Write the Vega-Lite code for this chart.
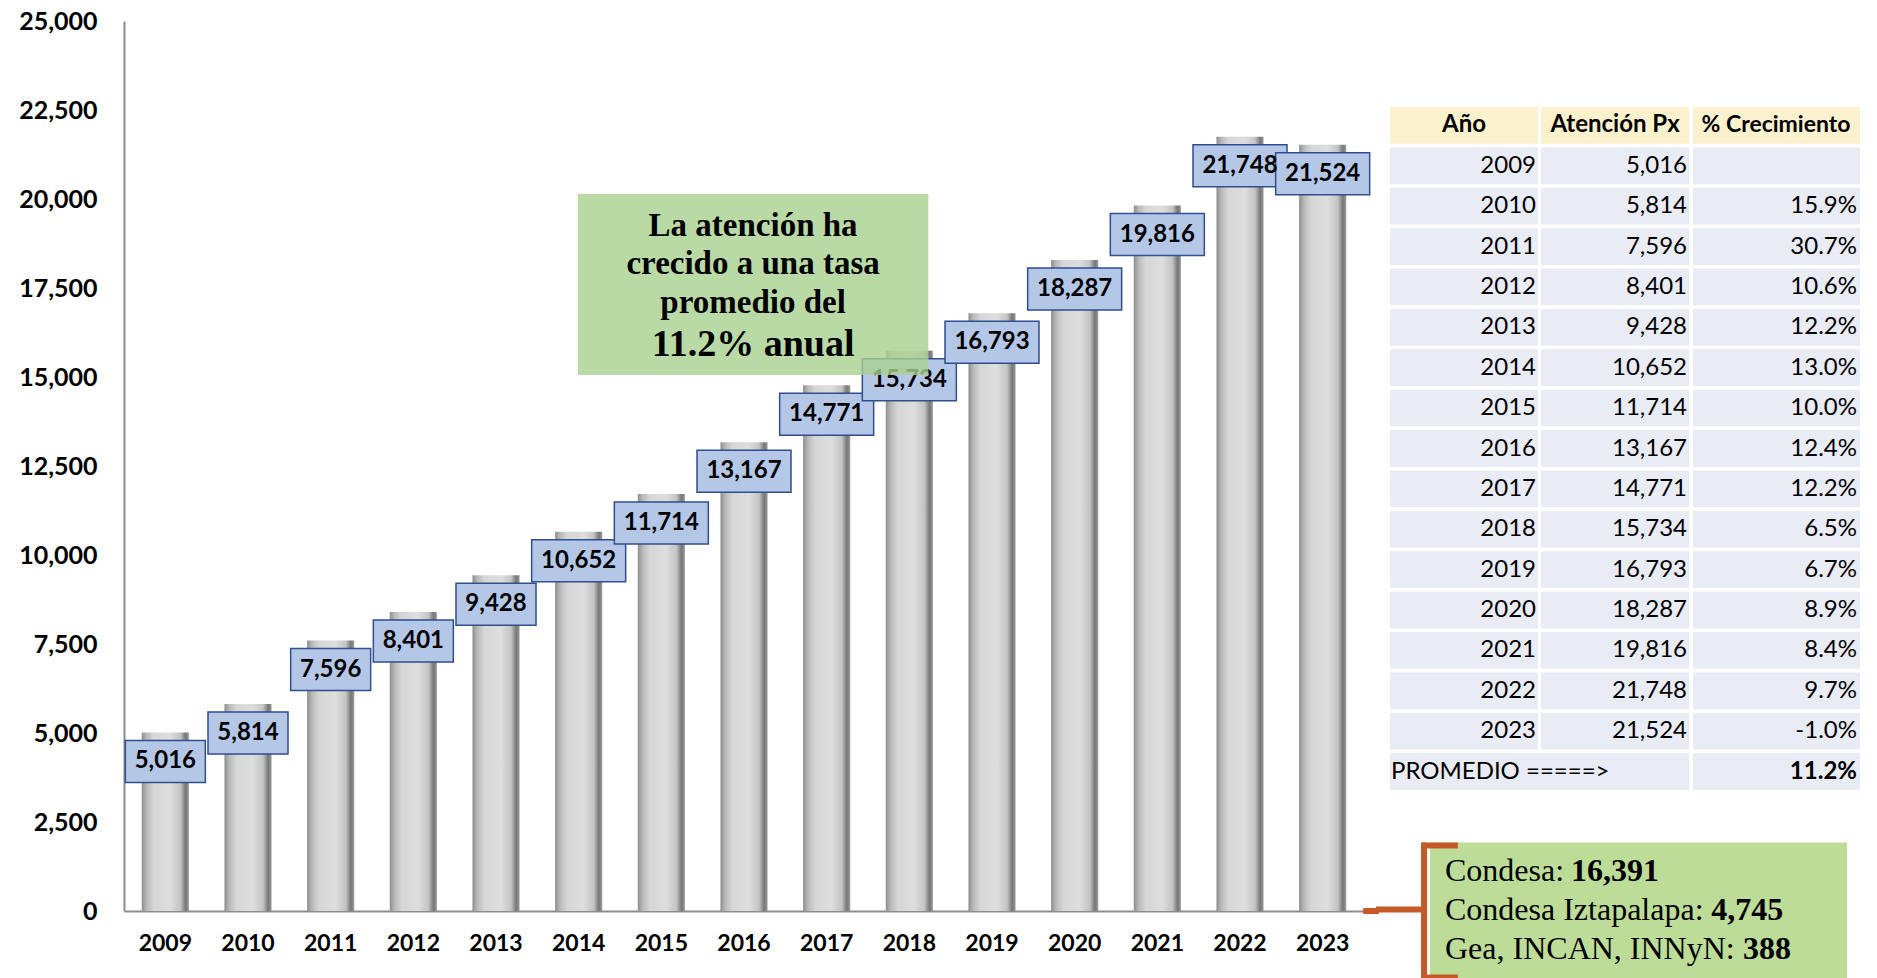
{
  "$schema": "https://vega.github.io/schema/vega-lite/v6.json",
  "background": "white",
  "padding": {"left": 18, "top": 9, "right": 0, "bottom": 0},
  "config": {
    "view": {"stroke": null},
    "font": "Lato",
    "locale": {"number": {"decimal": ".", "thousands": ",", "grouping": [3], "currency": ["$", ""], "minus": "-"}}
  },
  "datasets": {
    "atencion": [
      {"Año": "2009", "Atención": 5016, "Crecimiento": null},
      {"Año": "2010", "Atención": 5814, "Crecimiento": 0.159},
      {"Año": "2011", "Atención": 7596, "Crecimiento": 0.307},
      {"Año": "2012", "Atención": 8401, "Crecimiento": 0.106},
      {"Año": "2013", "Atención": 9428, "Crecimiento": 0.122},
      {"Año": "2014", "Atención": 10652, "Crecimiento": 0.130},
      {"Año": "2015", "Atención": 11714, "Crecimiento": 0.100},
      {"Año": "2016", "Atención": 13167, "Crecimiento": 0.124},
      {"Año": "2017", "Atención": 14771, "Crecimiento": 0.122},
      {"Año": "2018", "Atención": 15734, "Crecimiento": 0.065},
      {"Año": "2019", "Atención": 16793, "Crecimiento": 0.067},
      {"Año": "2020", "Atención": 18287, "Crecimiento": 0.089},
      {"Año": "2021", "Atención": 19816, "Crecimiento": 0.084},
      {"Año": "2022", "Atención": 21748, "Crecimiento": 0.097},
      {"Año": "2023", "Atención": 21524, "Crecimiento": -0.010}
    ],
    "unidades": [
      {"unidad": "Condesa", "pacientes": 16391},
      {"unidad": "Condesa Iztapalapa", "pacientes": 4745},
      {"unidad": "Gea, INCAN, INNyN", "pacientes": 388}
    ],
    "resumen": [{"etiqueta": "PROMEDIO =====>", "promedio": 0.112}]
  },
  "spacing": -11,
  "hconcat": [
    {
      "width": 1240,
      "height": 890,
      "layer": [
        {
          "data": {"name": "atencion"},
          "encoding": {
            "x": {"field": "Año", "type": "nominal", "sort": null,
              "scale": {"paddingInner": 0, "paddingOuter": 0},
              "axis": {"title": null, "labelAngle": 0, "labelFont": "Lato", "labelFontWeight": "bold", "labelFontSize": 23, "labelColor": "black", "labelPadding": 21, "ticks": false, "domainColor": "#8c8c8c", "domainWidth": 2, "grid": false}},
            "y": {"field": "Atención", "type": "quantitative",
              "scale": {"domain": [0, 25000], "nice": false},
              "axis": {"title": null, "values": [0, 2500, 5000, 7500, 10000, 12500, 15000, 17500, 20000, 22500, 25000], "format": ",.0f", "labelFont": "Lato", "labelFontWeight": "bold", "labelFontSize": 25, "labelColor": "black", "labelPadding": 27, "ticks": false, "domainColor": "#8c8c8c", "domainWidth": 2, "grid": false}}
          },
          "layer": [
            {"mark": {"type": "bar", "width": {"band": 0.57},
              "fill": {"gradient": "linear", "x1": 0, "x2": 1, "y1": 0, "y2": 0,
                "stops": [
                  {"offset": 0, "color": "#8e8e8e"},
                  {"offset": 0.1, "color": "#b8b8b8"},
                  {"offset": 0.25, "color": "#d6d6d6"},
                  {"offset": 0.6, "color": "#dedede"},
                  {"offset": 0.82, "color": "#c4c4c4"},
                  {"offset": 0.93, "color": "#767676"},
                  {"offset": 1, "color": "#9a9a9a"}]}}},
            {"transform": [{"filter": "datum['Atención'] < 10000"}],
             "mark": {"type": "bar", "width": 80, "yOffset": 8, "y2Offset": 50, "fill": "#b4c7e7", "stroke": "#2f4f8f", "strokeWidth": 1.5},
             "encoding": {"y2": {"field": "Atención"}}},
            {"transform": [{"filter": "datum['Atención'] >= 10000"}],
             "mark": {"type": "bar", "width": 94, "yOffset": 8, "y2Offset": 50, "fill": "#b4c7e7", "stroke": "#2f4f8f", "strokeWidth": 1.5},
             "encoding": {"y2": {"field": "Atención"}}},
            {"mark": {"type": "text", "yOffset": 29, "baseline": "middle", "align": "center", "font": "Lato", "fontWeight": "bold", "fontSize": 24, "color": "black"},
             "encoding": {"text": {"field": "Atención", "type": "quantitative", "format": ","}}}
          ]
        },
        {
          "data": {"values": [{}]},
          "layer": [
            {"mark": {"type": "rect", "fill": "#a9d18e", "opacity": 0.8},
             "encoding": {
               "x": {"datum": 5.49, "type": "quantitative", "scale": {"domain": [0, 15], "nice": false, "zero": false}, "axis": null},
               "x2": {"datum": 9.73},
               "y": {"datum": 20140, "type": "quantitative", "scale": {"domain": [0, 25000], "nice": false},
                 "axis": {"title": null, "values": [0, 2500, 5000, 7500, 10000, 12500, 15000, 17500, 20000, 22500, 25000], "format": ",.0f", "labelFont": "Lato", "labelFontWeight": "bold", "labelFontSize": 25, "labelColor": "black", "labelPadding": 27, "ticks": false, "domainColor": "#8c8c8c", "domainWidth": 2, "grid": false}},
               "y2": {"datum": 15056}}},
            {"mark": {"type": "text", "text": ["La atención ha", "crecido a una tasa", "promedio del"], "font": "Liberation Serif", "fontWeight": "bold", "fontSize": 33, "lineHeight": 38.5, "align": "center", "baseline": "middle", "color": "black"},
             "encoding": {
               "x": {"datum": 7.61, "type": "quantitative", "axis": null},
               "y": {"datum": 19242, "type": "quantitative", "scale": {"domain": [0, 25000], "nice": false},
                 "axis": {"title": null, "values": [0, 2500, 5000, 7500, 10000, 12500, 15000, 17500, 20000, 22500, 25000], "format": ",.0f", "labelFont": "Lato", "labelFontWeight": "bold", "labelFontSize": 25, "labelColor": "black", "labelPadding": 27, "ticks": false, "domainColor": "#8c8c8c", "domainWidth": 2, "grid": false}}}},
            {"mark": {"type": "text", "text": "11.2% anual", "font": "Liberation Serif", "fontWeight": "bold", "fontSize": 38, "align": "center", "baseline": "middle", "color": "black"},
             "encoding": {
               "x": {"datum": 7.61, "type": "quantitative", "axis": null},
               "y": {"datum": 15899, "type": "quantitative", "scale": {"domain": [0, 25000], "nice": false},
                 "axis": {"title": null, "values": [0, 2500, 5000, 7500, 10000, 12500, 15000, 17500, 20000, 22500, 25000], "format": ",.0f", "labelFont": "Lato", "labelFontWeight": "bold", "labelFontSize": 25, "labelColor": "black", "labelPadding": 27, "ticks": false, "domainColor": "#8c8c8c", "domainWidth": 2, "grid": false}}}},
            {"mark": {"type": "rule", "color": "#c55a28", "strokeWidth": 6},
             "encoding": {
               "x": {"datum": 14.99, "type": "quantitative", "axis": null},
               "x2": {"datum": 15.18},
               "y": {"datum": 0, "type": "quantitative", "scale": {"domain": [0, 25000], "nice": false},
                 "axis": {"title": null, "values": [0, 2500, 5000, 7500, 10000, 12500, 15000, 17500, 20000, 22500, 25000], "format": ",.0f", "labelFont": "Lato", "labelFontWeight": "bold", "labelFontSize": 25, "labelColor": "black", "labelPadding": 27, "ticks": false, "domainColor": "#8c8c8c", "domainWidth": 2, "grid": false}}}}
          ]
        }
      ],
      "resolve": {"scale": {"x": "independent"}}
    },
    {
      "width": 490,
      "height": 958,
      "layer": [
        {
          "data": {"name": "atencion"},
          "encoding": {
            "y": {"field": "Año", "type": "ordinal",
              "scale": {"domain": ["Año", "2009", "2010", "2011", "2012", "2013", "2014", "2015", "2016", "2017", "2018", "2019", "2020", "2021", "2022", "2023", "PROMEDIO"], "range": [86, 769], "paddingInner": 0.09, "paddingOuter": 0},
              "axis": null}
          },
          "layer": [
            {"mark": {"type": "rect", "fill": "#e9ebf5"},
             "encoding": {"x": {"datum": 2.86, "type": "quantitative", "scale": {"domain": [1.22, 101.22], "nice": false, "zero": false}, "axis": null}, "x2": {"datum": 33.06}}},
            {"mark": {"type": "rect", "fill": "#e9ebf5"},
             "encoding": {"x": {"datum": 33.67, "type": "quantitative", "axis": null}, "x2": {"datum": 63.88}}},
            {"mark": {"type": "rect", "fill": "#e9ebf5"},
             "encoding": {"x": {"datum": 64.69, "type": "quantitative", "axis": null}, "x2": {"datum": 98.78}}},
            {"mark": {"type": "text", "align": "right", "baseline": "middle", "font": "Lato", "fontSize": 24, "color": "black"},
             "encoding": {"x": {"datum": 32.65, "type": "quantitative", "axis": null}, "text": {"field": "Año"}}},
            {"mark": {"type": "text", "align": "right", "baseline": "middle", "font": "Lato", "fontSize": 24, "color": "black"},
             "encoding": {"x": {"datum": 63.47, "type": "quantitative", "axis": null}, "text": {"field": "Atención", "type": "quantitative", "format": ","}}},
            {"transform": [{"filter": "isValid(datum.Crecimiento)"}],
             "mark": {"type": "text", "align": "right", "baseline": "middle", "font": "Lato", "fontSize": 24, "color": "black"},
             "encoding": {"x": {"datum": 98.16, "type": "quantitative", "axis": null}, "text": {"field": "Crecimiento", "type": "quantitative", "format": ".1%"}}},
            {"data": {"values": [{}]},
             "mark": {"type": "rect", "fill": "#fcf1cd"},
             "encoding": {"y": {"datum": "Año", "type": "ordinal"}, "x": {"datum": 2.86, "type": "quantitative", "axis": null}, "x2": {"datum": 33.06}}},
            {"data": {"values": [{}]},
             "mark": {"type": "rect", "fill": "#fcf1cd"},
             "encoding": {"y": {"datum": "Año", "type": "ordinal"}, "x": {"datum": 33.67, "type": "quantitative", "axis": null}, "x2": {"datum": 63.88}}},
            {"data": {"values": [{}]},
             "mark": {"type": "rect", "fill": "#fcf1cd"},
             "encoding": {"y": {"datum": "Año", "type": "ordinal"}, "x": {"datum": 64.69, "type": "quantitative", "axis": null}, "x2": {"datum": 98.78}}},
            {"data": {"values": [{}]},
             "mark": {"type": "text", "text": "Año", "align": "center", "baseline": "middle", "font": "Lato", "fontWeight": "bold", "fontSize": 24, "color": "black"},
             "encoding": {"y": {"datum": "Año", "type": "ordinal"}, "x": {"datum": 17.96, "type": "quantitative", "axis": null}}},
            {"data": {"values": [{}]},
             "mark": {"type": "text", "text": "Atención Px", "align": "center", "baseline": "middle", "font": "Lato", "fontWeight": "bold", "fontSize": 24, "color": "black"},
             "encoding": {"y": {"datum": "Año", "type": "ordinal"}, "x": {"datum": 48.78, "type": "quantitative", "axis": null}}},
            {"data": {"values": [{}]},
             "mark": {"type": "text", "text": "% Crecimiento", "align": "center", "baseline": "middle", "font": "Lato", "fontWeight": "bold", "fontSize": 23, "color": "black"},
             "encoding": {"y": {"datum": "Año", "type": "ordinal"}, "x": {"datum": 81.63, "type": "quantitative", "axis": null}}},
            {"data": {"name": "resumen"},
             "mark": {"type": "rect", "fill": "#e9ebf5"},
             "encoding": {"y": {"datum": "PROMEDIO", "type": "ordinal"}, "x": {"datum": 2.86, "type": "quantitative", "axis": null}, "x2": {"datum": 63.88}}},
            {"data": {"name": "resumen"},
             "mark": {"type": "rect", "fill": "#e9ebf5"},
             "encoding": {"y": {"datum": "PROMEDIO", "type": "ordinal"}, "x": {"datum": 64.69, "type": "quantitative", "axis": null}, "x2": {"datum": 98.78}}},
            {"data": {"name": "resumen"},
             "mark": {"type": "text", "align": "left", "baseline": "middle", "font": "Lato", "fontSize": 24, "color": "black"},
             "encoding": {"y": {"datum": "PROMEDIO", "type": "ordinal"}, "x": {"datum": 3.06, "type": "quantitative", "axis": null}, "text": {"field": "etiqueta"}}},
            {"data": {"name": "resumen"},
             "mark": {"type": "text", "align": "right", "baseline": "middle", "font": "Lato", "fontWeight": "bold", "fontSize": 24, "color": "black"},
             "encoding": {"y": {"datum": "PROMEDIO", "type": "ordinal"}, "x": {"datum": 98.16, "type": "quantitative", "axis": null}, "text": {"field": "promedio", "type": "quantitative", "format": ".1%"}}}
          ]
        },
        {
          "data": {"name": "unidades"},
          "encoding": {
            "y": {"field": "unidad", "type": "nominal", "sort": null,
              "scale": {"domain": ["Condesa", "Condesa Iztapalapa", "Gea, INCAN, INNyN"], "range": [830, 947], "paddingInner": 0, "paddingOuter": 0},
              "axis": null}
          },
          "layer": [
            {"data": {"values": [{}]},
             "mark": {"type": "rect", "fill": "#bcdc98", "height": 136, "yOffset": 1},
             "encoding": {"y": {"datum": "Condesa Iztapalapa", "type": "nominal"}, "x": {"datum": 11.02, "type": "quantitative", "axis": null}, "x2": {"datum": 96.12}}},
            {"data": {"values": [{}]},
             "mark": {"type": "rule", "color": "#c55a28", "strokeWidth": 6},
             "encoding": {"y": {"datum": "Condesa Iztapalapa", "type": "nominal"}, "x": {"datum": 0, "type": "quantitative", "axis": null}, "x2": {"datum": 9.8}}},
            {"data": {"values": [{}]},
             "mark": {"type": "rule", "color": "#c55a28", "strokeWidth": 6, "strokeCap": "square", "yOffset": -25, "y2Offset": 29},
             "encoding": {"y": {"datum": "Condesa", "type": "nominal"}, "y2": {"datum": "Gea, INCAN, INNyN"}, "x": {"datum": 9.8, "type": "quantitative", "axis": null}}},
            {"data": {"values": [{}]},
             "mark": {"type": "rule", "color": "#c55a28", "strokeWidth": 6, "strokeCap": "square", "yOffset": -25},
             "encoding": {"y": {"datum": "Condesa", "type": "nominal"}, "x": {"datum": 9.8, "type": "quantitative", "axis": null}, "x2": {"datum": 16.1}}},
            {"data": {"values": [{}]},
             "mark": {"type": "rule", "color": "#c55a28", "strokeWidth": 6, "strokeCap": "square", "yOffset": 29},
             "encoding": {"y": {"datum": "Gea, INCAN, INNyN", "type": "nominal"}, "x": {"datum": 9.8, "type": "quantitative", "axis": null}, "x2": {"datum": 16.1}}},
            {"transform": [{"calculate": "datum.unidad + ':'", "as": "rotulo"}],
             "mark": {"type": "text", "align": "left", "baseline": "middle", "font": "Liberation Serif", "fontSize": 32, "color": "black"},
             "encoding": {"x": {"datum": 14.08, "type": "quantitative", "axis": null}, "text": {"field": "rotulo"}}},
            {"transform": [{"filter": "datum.unidad == 'Condesa'"}],
             "mark": {"type": "text", "align": "left", "baseline": "middle", "font": "Liberation Serif", "fontWeight": "bold", "fontSize": 32, "color": "black"},
             "encoding": {"x": {"datum": 39.8, "type": "quantitative", "axis": null}, "text": {"field": "pacientes", "type": "quantitative", "format": ","}}},
            {"transform": [{"filter": "datum.unidad == 'Condesa Iztapalapa'"}],
             "mark": {"type": "text", "align": "left", "baseline": "middle", "font": "Liberation Serif", "fontWeight": "bold", "fontSize": 32, "color": "black"},
             "encoding": {"x": {"datum": 68.4, "type": "quantitative", "axis": null}, "text": {"field": "pacientes", "type": "quantitative", "format": ","}}},
            {"transform": [{"filter": "datum.unidad == 'Gea, INCAN, INNyN'"}],
             "mark": {"type": "text", "align": "left", "baseline": "middle", "font": "Liberation Serif", "fontWeight": "bold", "fontSize": 32, "color": "black"},
             "encoding": {"x": {"datum": 74.9, "type": "quantitative", "axis": null}, "text": {"field": "pacientes", "type": "quantitative", "format": ","}}}
          ]
        }
      ],
      "resolve": {"scale": {"y": "independent"}}
    }
  ]
}
